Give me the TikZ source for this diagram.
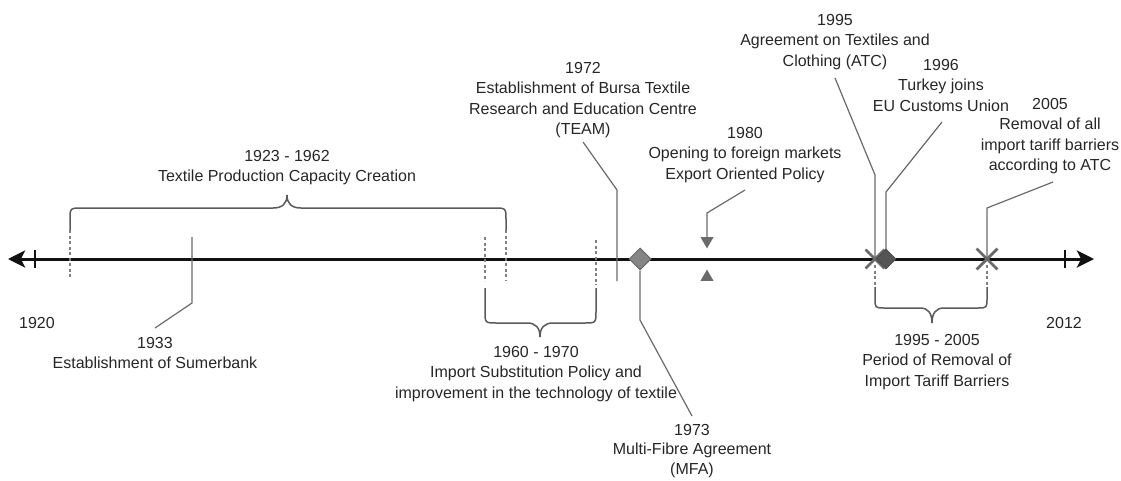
\documentclass[tikz,border=0pt]{standalone}
\usepackage{fontspec}
\setmainfont{Liberation Sans}
\usetikzlibrary{arrows.meta,shapes.geometric,shapes.misc}
\definecolor{txt}{HTML}{262626}
\definecolor{ln}{HTML}{6A6A6A}
\definecolor{dk}{HTML}{111111}
\definecolor{dfill}{HTML}{858585}
\begin{document}
\begin{tikzpicture}[x=1pt,y=-1pt,
  lbl/.style={font=\fontsize{16}{20.5}\selectfont, text=txt, align=center, inner sep=0pt, anchor=north},
  conn/.style={draw=ln, line width=1.2pt},
  guide/.style={draw=ln!85, line width=1.4pt, dash pattern=on 3pt off 2.5pt},
  brace/.style={draw=ln!85!black, line width=1.5pt},
  axisline/.style={line width=3pt, draw=dk, {Stealth[length=17pt,width=17pt,inset=4pt]}-{Stealth[length=17pt,width=17pt,inset=4pt]}},
  tickmark/.style={line width=2pt, draw=dk},
  xmark/.style={cross out, draw=ln, line width=2.8pt, minimum size=16pt, inner sep=0pt},
  dmark/.style={diamond, aspect=1, inner sep=0pt},
  trimark/.style={regular polygon, regular polygon sides=3, fill=ln, inner sep=0pt, minimum size=15pt}
]
\useasboundingbox (0,0) rectangle (1121,480);

% axis
\coordinate (aL) at (8,259);
\coordinate (aR) at (1094,259);
\draw[axisline] (aL) -- (aR);
\draw[tickmark] (35,250) -- (35,268);
\draw[tickmark] (1065,250) -- (1065,268);

% dashed guides
\draw[guide] (70,230) -- (70,277);
\draw[guide] (485,237) -- (485,281);
\draw[guide] (506,230) -- (506,281);
\draw[guide] (596,240) -- (596,285);
\draw[guide] (875,265) -- (875,287);
\draw[guide] (987,265) -- (987,287);

% braces
\draw[brace] (70,230) -- (70,220) .. controls (70,208) .. (82,208) -- (273,208)
  .. controls (282,208) and (287,204) .. (287,195)
  .. controls (287,204) and (292,208) .. (301,208) -- (494,208)
  .. controls (506,208) .. (506,220) -- (506,230);
\draw[brace] (485,288) -- (485,311) .. controls (485,323) .. (497,323) -- (527,323)
  .. controls (536,323) and (540,328) .. (540,337)
  .. controls (540,328) and (544,323) .. (553,323) -- (584,323)
  .. controls (596,323) .. (596,311) -- (596,288);
\draw[brace] (875,287) -- (875,298) .. controls (875,308) .. (885,308) -- (920,308)
  .. controls (928,308) and (932,313) .. (932,323)
  .. controls (932,313) and (936,308) .. (944,308) -- (977,308)
  .. controls (987,308) .. (987,298) -- (987,287);

% connector coordinates
\coordinate (c1933a) at (155,328);
\coordinate (c1933b) at (192,303);
\coordinate (c1933c) at (192,237);
\coordinate (c1972a) at (583,142);
\coordinate (c1972b) at (617,190);
\coordinate (c1972c) at (617,281);
\coordinate (c1973b) at (640,320);
\coordinate (c1973a) at (692,416);
\coordinate (c1980a) at (745,190);
\coordinate (c1980b) at (707,213);
\coordinate (c1995a) at (835,78);
\coordinate (c1995b) at (875,175);
\coordinate (c1996a) at (942,122);
\coordinate (c1996b) at (886,192);
\coordinate (c2005a) at (1053,182);
\coordinate (c2005b) at (987,208);

% marker positions
\coordinate (p1995) at (875,259);
\coordinate (p1996) at (886,259);
\coordinate (p2005) at (987,259);

% connectors
\draw[conn] (c1933a) -- (c1933b) -- (c1933c);
\draw[conn] (c1972a) -- (c1972b) -- (c1972c);
\draw[conn] (c1995a) -- (c1995b) -- (p1995);
\draw[conn] (c1996a) -- (c1996b) -- (p1996);
\draw[conn] (c2005a) -- (c2005b) -- (p2005);

% markers
\node[dmark, fill=dfill, draw=ln, line width=1pt, minimum size=22pt] (m1973) at (640,259) {};
\node[trimark, shape border rotate=180, anchor=north] (m1980) at (707,237) {};
\node[trimark, anchor=south] (m1980b) at (707,281) {};
\node[xmark] (m1995) at (p1995) {};
\node[dmark, fill=ln!80!black, draw=ln!70!black, line width=0.8pt, minimum size=20pt] (m1996) at (p1996) {};
\node[xmark, minimum size=18pt] (m2005) at (p2005) {};

\draw[conn] (m1973.south) -- (c1973b) -- (c1973a);
\draw[conn] (c1980a) -- (c1980b) -- (m1980.north);

% labels
\node[lbl] (L1923) at (287,150) {1923 - 1962\\Textile Production Capacity Creation};
\node[lbl] (L1933) at (155,337) {1933\\Establishment of Sumerbank};
\node[lbl] (L1920) at (37,317) {1920};
\node[lbl] (L1960) at (536,346) {1960 - 1970\\Import Substitution Policy and\\improvement in the technology of textile};
\node[lbl] (L1972) at (583,62) {1972\\Establishment of Bursa Textile\\Research and Education Centre\\(TEAM)};
\node[lbl] (L1980) at (745,127) {1980\\Opening to foreign markets\\Export Oriented Policy};
\node[lbl, font=\fontsize{16}{19.5}\selectfont] (L1973) at (692,424) {1973\\Multi-Fibre Agreement\\(MFA)};
\node[lbl] (L1995) at (835,14) {1995\\Agreement on Textiles and\\Clothing (ATC)};
\node[lbl] (L1996) at (941,59) {1996\\Turkey joins\\EU Customs Union};
\node[lbl] (L2005) at (1050,98) {2005\\Removal of all\\import tariff barriers\\according to ATC};
\node[lbl] (L9505) at (937,334) {1995 - 2005\\Period of Removal of\\Import Tariff Barriers};
\node[lbl] (L2012) at (1064,317) {2012};
\end{tikzpicture}
\end{document}
